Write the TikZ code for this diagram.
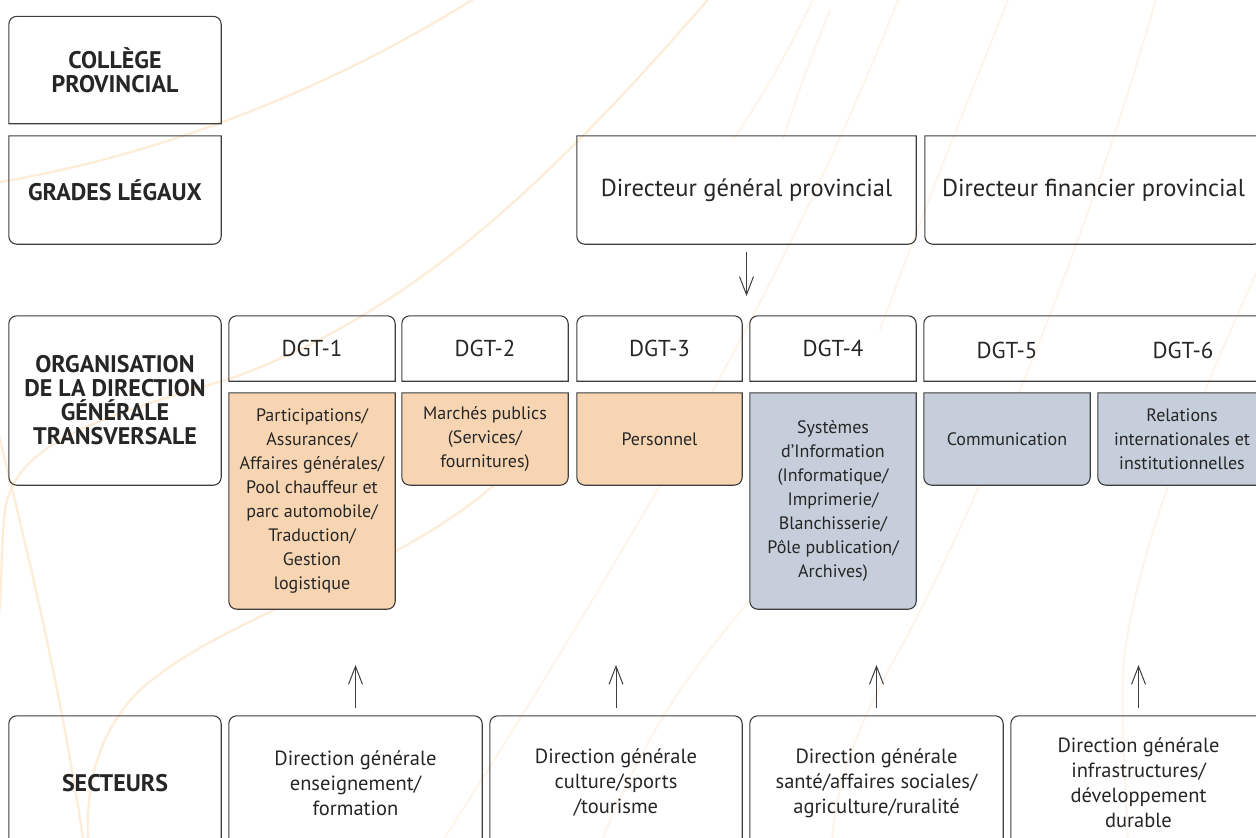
\documentclass[tikz,border=0pt]{standalone}
\usepackage{fontspec}
\setmainfont{PT Sans}
\usetikzlibrary{arrows.meta}
\definecolor{peach}{RGB}{247,213,178}
\definecolor{bluegray}{RGB}{197,206,218}
\definecolor{lineg}{RGB}{62,62,62}
\definecolor{txt}{RGB}{38,38,38}
\definecolor{decoA}{RGB}{253,236,214}
\definecolor{decoB}{RGB}{254,244,232}
\pgfdeclarelayer{bg}
\pgfsetlayers{bg,main}
\newcommand\rr{8pt}
% top corners rounded
\newcommand\boxTop[2]{\path[#1] (#2.south west) -- ([yshift=-\rr]#2.north west) arc[start angle=180,end angle=90,radius=\rr] -- ([xshift=-\rr]#2.north east) arc[start angle=90,end angle=0,radius=\rr] -- (#2.south east) -- cycle;}
% bottom corners rounded
\newcommand\boxBot[2]{\path[#1] (#2.north east) -- (#2.north west) -- ([yshift=\rr]#2.south west) arc[start angle=180,end angle=270,radius=\rr] -- ([xshift=-\rr]#2.south east) arc[start angle=270,end angle=360,radius=\rr] -- cycle;}
\begin{document}
\begin{tikzpicture}[x=1pt,y=-1pt,
  lbl/.style={inner sep=0pt, align=center, text=txt},
  hdr/.style={lbl, font=\bfseries\fontsize{24}{24}\selectfont},
  big/.style={lbl, font=\fontsize{24.5}{26}\selectfont},
  dgt/.style={lbl, font=\fontsize{23}{26}\selectfont},
  small/.style={lbl, font=\fontsize{18}{24}\selectfont},
  sect/.style={lbl, font=\fontsize{20.5}{25}\selectfont},
  outline/.style={draw=lineg, line width=1.1pt},
  deco/.style={draw=decoA, line width=2.2pt},
  decothin/.style={draw=decoB, line width=1.8pt},
  arr/.style={draw=lineg, line width=1pt, -{Straight Barb[length=18pt,width=14pt]}}
]
\useasboundingbox (0,0) rectangle (1256,838);

% ---------- nodes ----------
\node[hdr, minimum width=212pt, minimum height=107pt] (college) at (115,70) {COLLÈGE\\PROVINCIAL};
\node[hdr, minimum width=212pt, minimum height=108pt] (grades) at (115,190) {GRADES LÉGAUX};
\node[big, minimum width=339pt, minimum height=108pt] (dgp) at (746.5,190) {Directeur général provincial};
\node[big, minimum width=337pt, minimum height=108pt] (dfp) at (1093.5,190) {Directeur financier provincial};

\node[hdr, minimum width=212pt, minimum height=169pt] (org) at (115,400.5) {ORGANISATION\\DE LA DIRECTION\\GÉNÉRALE\\TRANSVERSALE};
\node[dgt, minimum width=166pt, minimum height=65pt] (dgt1) at (312,348.5) {DGT-1};
\node[dgt, minimum width=166pt, minimum height=65pt] (dgt2) at (485,348.5) {DGT-2};
\node[dgt, minimum width=165pt, minimum height=65pt] (dgt3) at (659.5,348.5) {DGT-3};
\node[dgt, minimum width=166pt, minimum height=65pt] (dgt4) at (833,348.5) {DGT-4};
\node[lbl, minimum width=342pt, minimum height=65pt] (dgt56) at (1095,348.5) {};
\node[dgt] (dgt5) at (1007,350) {DGT-5};
\node[dgt] (dgt6) at (1183,350) {DGT-6};

\node[small, minimum width=166pt, minimum height=216pt] (c1) at (312,501) {Participations/\\Assurances/\\Affaires générales/\\Pool chauffeur et\\parc automobile/\\Traduction/\\Gestion\\logistique};
\node[small, minimum width=166pt, minimum height=92pt] (c2) at (485,439) {Marchés publics\\(Services/\\fournitures)};
\node[small, minimum width=165pt, minimum height=92pt] (c3) at (659.5,439) {Personnel};
\node[small, minimum width=166pt, minimum height=216pt] (c4) at (833,501) {Systèmes\\d’Information\\(Informatique/\\Imprimerie/\\Blanchisserie/\\Pôle publication/\\Archives)};
\node[small, minimum width=166pt, minimum height=92pt] (c5) at (1007,439) {Communication};
\node[small, minimum width=168pt, minimum height=92pt] (c6) at (1182,439) {Relations\\internationales et\\institutionnelles};

\node[hdr, minimum width=212pt, minimum height=134pt] (s0) at (115,783) {SECTEURS};
\node[sect, minimum width=253pt, minimum height=134pt] (s1) at (355.5,783) {Direction générale\\enseignement/\\formation};
\node[sect, minimum width=252pt, minimum height=134pt] (s2) at (616,783) {Direction générale\\culture/sports\\/tourisme};
\node[sect, minimum width=253pt, minimum height=134pt] (s3) at (876.5,783) {Direction générale\\santé/affaires sociales/\\agriculture/ruralité};
\node[sect, minimum width=255pt, minimum height=134pt] (s4) at (1138.5,783) {Direction générale\\infrastructures/\\développement\\durable};

% ---------- background: decoration and frames ----------
\begin{pgfonlayer}{bg}
\fill[white] (0,0) rectangle (1256,838);
\draw[deco] (0,182) .. controls (160,155) and (330,90) .. (480,-5);
\draw[deco] (712,-5) .. controls (560,170) and (420,310) .. (232,378) .. controls (90,420) and (8,445) .. (4,520) .. controls (0,570) and (3,600) .. (-5,640);
\draw[deco] (-5,420) .. controls (20,520) and (60,680) .. (84,845);
\draw[deco] (505,475) .. controls (400,575) and (230,610) .. (140,690) .. controls (100,730) and (85,780) .. (88,845);
\draw[decothin] (815,-5) .. controls (790,50) and (760,100) .. (733,140);
\draw[decothin] (830,10) .. controls (810,60) and (795,100) .. (783,140);
\draw[decothin] (1010,-5) .. controls (960,120) and (920,220) .. (880,330);
\draw[decothin] (900,-5) .. controls (820,200) and (700,440) .. (440,845);
\draw[decothin] (1157,-5) .. controls (1100,200) and (1000,460) .. (905,640) .. controls (860,720) and (835,780) .. (832,845);
\draw[decothin] (1290,200) .. controls (1230,330) and (1140,520) .. (1124,660) .. controls (1120,720) and (1126,780) .. (1128,845);
\draw[decothin] (880,420) .. controls (830,500) and (780,560) .. (750,600) .. controls (700,660) and (650,720) .. (600,845);

\boxTop{outline}{college}
\boxBot{outline}{grades}
\boxBot{outline}{dgp}
\boxBot{outline}{dfp}
\draw[outline, rounded corners=\rr] (org.south west) rectangle (org.north east);
\boxTop{outline}{dgt1}
\boxTop{outline}{dgt2}
\boxTop{outline}{dgt3}
\boxTop{outline}{dgt4}
\boxTop{outline}{dgt56}
\boxBot{outline, fill=peach}{c1}
\boxBot{outline, fill=peach}{c2}
\boxBot{outline, fill=peach}{c3}
\boxBot{outline, fill=bluegray}{c4}
\boxBot{outline, fill=bluegray}{c5}
\boxBot{outline, fill=bluegray}{c6}
\boxTop{outline}{s0}
\boxTop{outline}{s1}
\boxTop{outline}{s2}
\boxTop{outline}{s3}
\boxTop{outline}{s4}
\end{pgfonlayer}

% ---------- connectors ----------
\coordinate (down) at (746.5,296);
\draw[arr] ([yshift=-8pt]dgp.south) -- (down);
\coordinate (u1) at (355.5,665);
\coordinate (u2) at (616,665);
\coordinate (u3) at (876.5,665);
\coordinate (u4) at (1138.5,665);
\draw[arr] ([yshift=8pt]s1.north) -- (u1);
\draw[arr] ([yshift=8pt]s2.north) -- (u2);
\draw[arr] ([yshift=8pt]s3.north) -- (u3);
\draw[arr] ([yshift=8pt]s4.north) -- (u4);
\end{tikzpicture}
\end{document}
